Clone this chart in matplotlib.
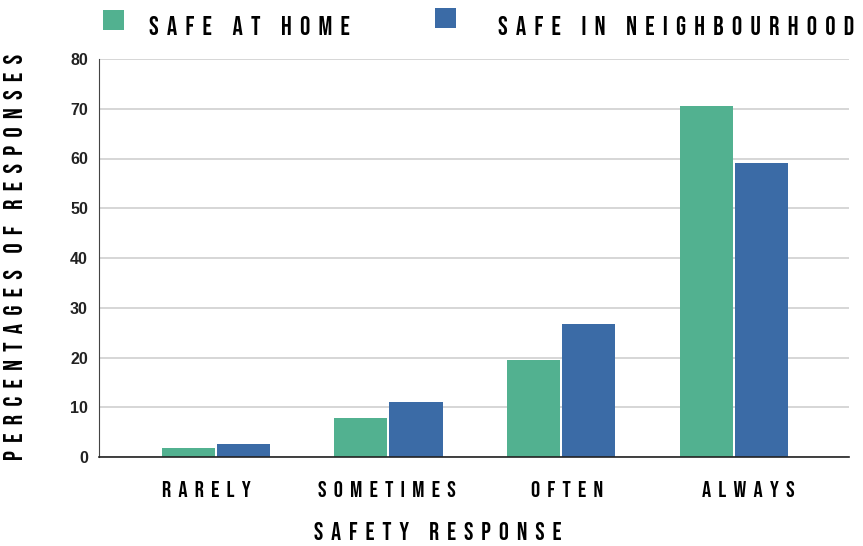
import matplotlib
matplotlib.use("Agg")
import matplotlib.pyplot as plt
from matplotlib.patches import Rectangle
import numpy as np

categories = ["RARELY", "SOMETIMES", "OFTEN", "ALWAYS"]
safe_home = [1.8, 7.9, 19.5, 70.5]
safe_neigh = [2.6, 11.0, 26.8, 59.0]
series_names = ["SAFE AT HOME", "SAFE IN NEIGHBOURHOOD"]
yticks = [0, 10, 20, 30, 40, 50, 60, 70, 80]
xlabel = "SAFETY RESPONSE"
ylabel = "PERCENTAGES OF RESPONSES"

GREEN = "#52B190"
BLUE = "#3B6BA6"
FONT = ["Bebas Neue", "DejaVu Sans"]


def spaced(s, lsep="  ", wsep="    "):
    return wsep.join(lsep.join(w) for w in s.split(" "))


W, H = 863, 546
fig = plt.figure(figsize=(W / 100, H / 100), dpi=100)
L, R, T, B = 99, 849, 59, 457
ax = fig.add_axes([L / W, 1 - B / H, (R - L) / W, (B - T) / H])

x = np.arange(len(categories))
bw = 0.307
gap = 0.006
ax.bar(x - bw / 2 - gap, safe_home, bw, color=GREEN, zorder=3)
ax.bar(x + bw / 2 + gap, safe_neigh, bw, color=BLUE, zorder=3)

ax.set_xlim(-0.675, 3.665)
ax.set_ylim(0, 80)
ax.set_yticks(yticks)
ax.set_yticklabels([str(v) for v in yticks], fontfamily="Liberation Sans",
                   fontweight="bold", fontsize=11.5, color="#222222")
# category labels sit slightly more spread than the bar groups in the original
ax.set_xticks(x * 1.044 - 0.052)
ax.set_xticklabels([spaced(c) for c in categories], fontfamily=FONT,
                   fontsize=16.5, color="#000000")
ax.tick_params(axis="both", length=0)
ax.tick_params(axis="x", pad=17)
ax.tick_params(axis="y", pad=8)
ax.grid(axis="y", color="#d3d3d3", linewidth=1.3, zorder=0)
for s in ["top", "right"]:
    ax.spines[s].set_visible(False)
ax.spines["left"].set_color("#444444")
ax.spines["left"].set_linewidth(0.8)
ax.spines["bottom"].set_color("#222222")
ax.spines["bottom"].set_linewidth(1.2)
ax.spines["bottom"].set_zorder(4)

ax.set_xlabel(spaced(xlabel, "  ", "     "), fontfamily=FONT, fontsize=17.8,
              color="#000000")
ax.xaxis.set_label_coords((438 - L) / (R - L), (B - 531) / (B - T))
ax.xaxis.label.set_va("center")
ax.set_ylabel(spaced(ylabel), fontfamily=FONT, fontsize=18.5, color="#000000")
ax.yaxis.set_label_coords((13.5 - L) / (R - L), (B - 257) / (B - T))
ax.yaxis.label.set_va("center")

# legend
for (x0, y0, col, name, tx) in [(103, 10, GREEN, series_names[0], 149),
                                (435, 8, BLUE, series_names[1], 498)]:
    fig.patches.append(Rectangle((x0 / W, 1 - (y0 + 20) / H), 21 / W, 20 / H,
                                 transform=fig.transFigure, facecolor=col,
                                 edgecolor="none"))
    fig.text(tx / W, 1 - 35 / H, spaced(name, "  ", "     "), fontfamily=FONT,
             fontsize=18.5, color="#000000", va="baseline", ha="left")

fig.savefig("out.png", dpi=100)
